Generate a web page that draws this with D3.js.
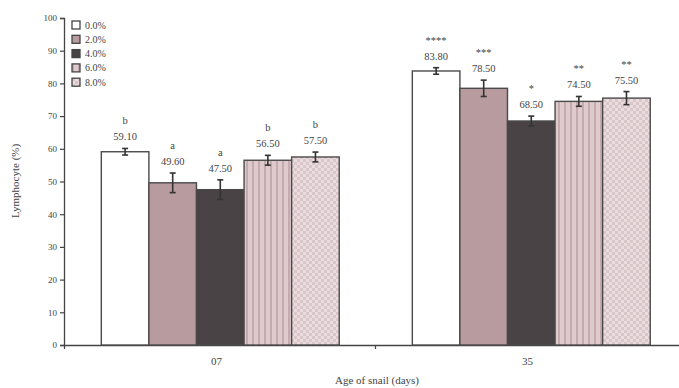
<!DOCTYPE html>
<html>
<head>
<meta charset="utf-8">
<script src="https://cdn.jsdelivr.net/npm/d3@7"></script>
<style>
  html, body { margin: 0; padding: 0; background: #fff; }
  svg { display: block; }
  text { font-family: "Liberation Serif", "DejaVu Serif", serif; fill: #444; }
</style>
</head>
<body>
<svg id="chart" width="679" height="388"></svg>
<script>
// Lymphocyte percentage by snail age and dietary concentration
const ages = ["07", "35"];
const concentrations = ["0.0%", "2.0%", "4.0%", "6.0%", "8.0%"];
const means07 = [59.10, 49.60, 47.50, 56.50, 57.50];
const means35 = [83.80, 78.50, 68.50, 74.50, 75.50];
const errors07 = [1.0, 3.0, 3.0, 1.5, 1.5];
const errors35 = [1.0, 2.5, 1.5, 1.5, 2.0];
const marks07 = ["b", "a", "a", "b", "b"];
const marks35 = ["****", "***", "*", "**", "**"];
const yTicks = [0, 10, 20, 30, 40, 50, 60, 70, 80, 90, 100];

const rows = ages.flatMap((age, gi) => concentrations.map((c, i) => ({
  age, conc: c, idx: i,
  mean: gi === 0 ? means07[i] : means35[i],
  err: gi === 0 ? errors07[i] : errors35[i],
  mark: gi === 0 ? marks07[i] : marks35[i]
})));

const svg = d3.select("#chart");
const defs = svg.append("defs");

// fill patterns
const stripe = defs.append("pattern").attr("id", "stripes")
  .attr("patternUnits", "userSpaceOnUse").attr("width", 6).attr("height", 6);
stripe.append("rect").attr("width", 6).attr("height", 6).attr("fill", "#dfcbce");
stripe.append("rect").attr("x", 0).attr("width", 2).attr("height", 6).attr("fill", "#c3abaf");

const dots = defs.append("pattern").attr("id", "dots")
  .attr("patternUnits", "userSpaceOnUse").attr("width", 6).attr("height", 6);
dots.append("rect").attr("width", 6).attr("height", 6).attr("fill", "#ebdddf");
dots.append("rect").attr("x", 0).attr("y", 0).attr("width", 3).attr("height", 3).attr("fill", "#d8c6c9");
dots.append("rect").attr("x", 3).attr("y", 3).attr("width", 3).attr("height", 3).attr("fill", "#d8c6c9");

const fills = ["#ffffff", "#b79b9f", "#4a4345", "url(#stripes)", "url(#dots)"];

const x0 = d3.scaleBand().domain(ages).range([64, 686]);
const x1 = d3.scaleBand().domain(concentrations)
  .range([x0.bandwidth() * 0.12, x0.bandwidth() * 0.885]);
const y = d3.scaleLinear().domain([0, 100]).range([345, 18]);

// y axis
const yAxis = svg.append("g").attr("transform", "translate(64,0)")
  .call(d3.axisLeft(y).tickValues(yTicks).tickSize(4).tickPadding(3));
yAxis.select(".domain").attr("stroke", "#444").attr("stroke-width", 1.3);
yAxis.selectAll(".tick line").attr("stroke", "#444").attr("stroke-width", 1.2);
yAxis.selectAll(".tick text").attr("font-size", 9)
  .style("font-family", "Liberation Serif, serif").attr("fill", "#444");

// x axis: ticks at band boundaries, labels at band centres
const xEdge = d3.scaleLinear().domain([0, 2]).range([64, 686]);
const xAxis = svg.append("g").attr("transform", "translate(0,345)")
  .call(d3.axisBottom(xEdge).tickValues([1]).tickSize(4).tickFormat(""));
xAxis.select(".domain").attr("stroke", "#444").attr("stroke-width", 1.3);
xAxis.selectAll(".tick line").attr("stroke", "#444").attr("stroke-width", 1.2);

svg.selectAll("text.age").data(ages).join("text").attr("class", "age")
  .attr("x", d => x0(d) + x0.bandwidth() / 2 - 3).attr("y", 365)
  .attr("text-anchor", "middle").attr("font-size", 11).text(d => d);

svg.append("text").attr("x", 377).attr("y", 384).attr("text-anchor", "middle")
  .attr("font-size", 11).text("Age of snail (days)");

svg.append("text").attr("transform", "translate(19,181) rotate(-90)")
  .attr("text-anchor", "middle").attr("font-size", 11).text("Lymphocyte (%)");

// bars
const bars = svg.append("g");
bars.selectAll("rect").data(rows).join("rect")
  .attr("x", d => x0(d.age) + x1(d.conc))
  .attr("y", d => y(d.mean))
  .attr("width", x1.bandwidth())
  .attr("height", d => y(0) - y(d.mean))
  .attr("fill", d => fills[d.idx])
  .attr("stroke", "#4a4a4a").attr("stroke-width", 1.4);

// error bars
const eb = svg.append("g").attr("stroke", "#333").attr("stroke-width", 1.6);
rows.forEach(d => {
  const cx = x0(d.age) + x1(d.conc) + x1.bandwidth() / 2;
  eb.append("line").attr("x1", cx).attr("x2", cx)
    .attr("y1", y(d.mean - d.err)).attr("y2", y(d.mean + d.err));
  [d.mean - d.err, d.mean + d.err].forEach(v => {
    eb.append("line").attr("x1", cx - 3).attr("x2", cx + 3)
      .attr("y1", y(v)).attr("y2", y(v));
  });
});

// value and significance labels
rows.forEach(d => {
  const cx = x0(d.age) + x1(d.conc) + x1.bandwidth() / 2;
  const top = y(d.mean + d.err);
  svg.append("text").attr("x", cx).attr("y", top - 8).attr("text-anchor", "middle")
    .attr("font-size", 10.5).text(d.mean.toFixed(2));
  svg.append("text").attr("x", cx).attr("y", top - 24).attr("text-anchor", "middle")
    .attr("font-size", 10.5).text(d.mark);
});

// legend
const legend = svg.append("g");
concentrations.forEach((c, i) => {
  const ly = 25 + i * 14.3;
  legend.append("rect").attr("x", 72).attr("y", ly - 4).attr("width", 8).attr("height", 8)
    .attr("fill", fills[i]).attr("stroke", "#444").attr("stroke-width", 1.3);
  legend.append("text").attr("x", 85).attr("y", ly + 3.5).attr("font-size", 10).text(c);
});
</script>
</body>
</html>
